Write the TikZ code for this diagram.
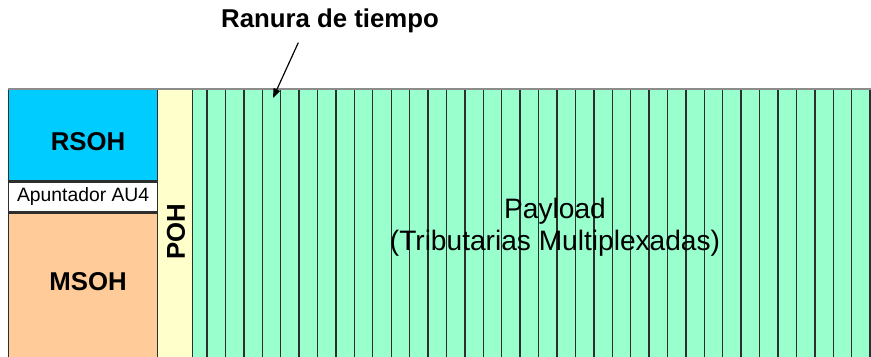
\documentclass[tikz,border=0pt]{standalone}
\usepackage{fontspec}
\setmainfont{Liberation Sans}
\usetikzlibrary{positioning,arrows.meta}
\definecolor{rsohblue}{HTML}{00CCFF}
\definecolor{msohorange}{HTML}{FFCC99}
\definecolor{pohyellow}{HTML}{FFFFCC}
\definecolor{payloadgreen}{HTML}{99FFCC}
\definecolor{edgegray}{HTML}{2E2E2E}
\definecolor{topgray}{HTML}{8C8C8C}

\begin{document}
\begin{tikzpicture}[x=0.03cm,y=-0.03cm,
    block/.style={draw=edgegray, line width=1.1pt, inner sep=0pt, anchor=north west},
    bigbold/.style={font=\fontsize{22}{26}\selectfont\bfseries},
    slotarrow/.style={-{Triangle[length=8pt,width=6pt]}, line width=1pt}]
    \useasboundingbox (0,0) rectangle (871,356);
    \clip (0,0) rectangle (871,356);

    % payload background and time slots
    \fill[payloadgreen] (192,89) rectangle (880,370);
    \foreach \k in {0,...,36} {
        \draw[edgegray, line width=1.2pt] (207+18.42*\k,89) -- (207+18.42*\k,370);
    }

    % section overhead blocks
    \node[block, fill=rsohblue, minimum width=4.47cm, minimum height=2.73cm] (rsoh) at (8,89) {};
    \node[bigbold] (rsohlabel) at (88,142) {RSOH};
    \node[block, fill=white, minimum width=4.47cm, minimum height=0.9cm,
          font=\fontsize{16.5}{20}\selectfont] (ptr) at (rsoh.south west) {Apuntador AU4};
    \node[block, fill=msohorange, minimum width=4.47cm, minimum height=5cm] (msoh) at (ptr.south west) {};
    \node[bigbold] (msohlabel) at (88,282) {MSOH};
    \node[block, fill=pohyellow, minimum width=1.05cm, minimum height=8.5cm] (poh) at (157,89) {};
    \node[bigbold, rotate=90] (pohlabel) at (176,232) {POH};
    \draw[topgray, line width=1.6pt] (8,89) -- (880,89);

    \node[align=center, font=\fontsize{24}{27.5}\selectfont] (payload) at (555,227)
        {Payload\\(Tributarias Multiplexadas)};

    % slot label
    \node[bigbold, inner sep=0pt] (ranura) at (330,21) {Ranura de tiempo};
    \coordinate (slot) at (273,98);
    \draw[slotarrow] ([xshift=-0.95cm,yshift=-0.28cm]ranura.south) -- (slot);
\end{tikzpicture}
\end{document}
